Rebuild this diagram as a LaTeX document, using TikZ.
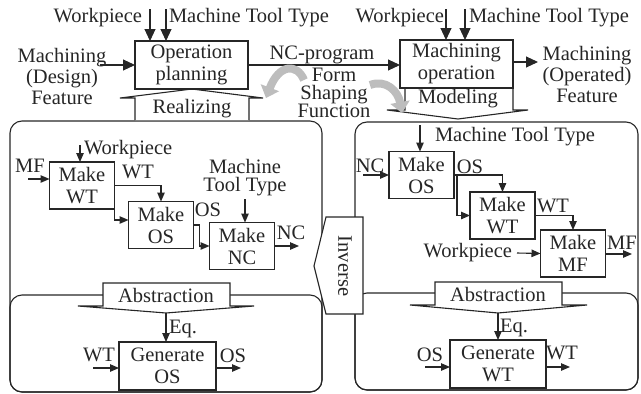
\documentclass[tikz,border=0pt]{standalone}
\usepackage{fontspec}
\setmainfont{Liberation Serif}
\usetikzlibrary{arrows.meta}
\definecolor{machInk}{HTML}{262626}
\definecolor{machHatch}{HTML}{BDBDBD}
\tikzset{
  mach diagram/.style={
    color=machInk, line width=1.1pt,
    >={Triangle[length=9pt,width=7.5pt]},
    every node/.style={font=\fontsize{20.5}{22}\selectfont,
      text=machInk, inner sep=0pt, outer sep=0pt}
  },
  mach box/.style={draw=machInk, align=center,
    minimum width=65pt, minimum height=47pt},
  mach region/.style={rounded corners=12pt},
  mach block/.style={fill=white, draw=machInk},
  mach big/.style={-{Triangle[length=12pt,width=11pt]}},
  mach tight/.style={align=center, font=\fontsize{20.5}{18}\selectfont},
  mach turn/.style={line width=8pt, draw=machHatch,
    -{Triangle[length=11pt,width=19pt]}}
}
\begin{document}
\begin{tikzpicture}[mach diagram,x=1pt,y=-1pt]
  \useasboundingbox (0,0) rectangle (641,394);
  % regions
  \draw[mach region] (10,121) rectangle (322,392);
  \draw[mach region] (10,295) rectangle (322,392);
  \draw[mach region] (355,122) rectangle (638,390);
  \draw[mach region] (355,293) rectangle (638,390);

  % block arrows
  \path[mach block] (135,120) -- (135,98) -- (120,98) -- (192,89)
    -- (263,98) -- (249,98) -- (249,120);
  \node (realize) at (192,109) {Realizing};
  \path[mach block] (405,88) -- (405,110) -- (387,110) -- (458,119)
    -- (528,110) -- (513,110) -- (513,88);
  \node (model) at (458,99) {Modeling};
  \path[mach block] (103,283) -- (230,283) -- (230,306) -- (254,306)
    -- (166,313) -- (78,306) -- (103,306) -- cycle;
  \node (abstA) at (166,295) {Abstraction};
  \path[mach block] (435,282) -- (562,282) -- (562,305) -- (587,305)
    -- (498,313) -- (410,305) -- (435,305) -- cycle;
  \node (abstB) at (498,294) {Abstraction};
  \path[mach block] (363,217) -- (326,217) -- (314,266) -- (326,314)
    -- (363,314) -- cycle;
  \node[rotate=-90] (inverse) at (345,266) {Inverse};

  % top row
  \node[mach box,minimum width=113pt,minimum height=48pt] (opplan)
    at (191.5,65) {Operation\\planning};
  \node[mach box,minimum width=113pt,minimum height=48pt] (machop)
    at (456.5,64) {Machining\\operation};
  \node[anchor=east] (wpTopA) at (142,18) {Workpiece};
  \node[anchor=west] (mttTopA) at (169,18) {Machine Tool Type};
  \node[anchor=east] (wpTopB) at (444,18) {Workpiece};
  \node[anchor=west] (mttTopB) at (469,18) {Machine Tool Type};
  \coordinate (wpInA) at (150,9);
  \coordinate (mttInA) at (166,9);
  \coordinate (wpInB) at (446,9);
  \coordinate (mttInB) at (465,9);
  \draw[mach big] (wpInA) -- (wpInA |- opplan.north);
  \draw[mach big] (mttInA) -- (mttInA |- opplan.north);
  \draw[mach big] (wpInB) -- (wpInB |- machop.north);
  \draw[mach big] (mttInB) -- (mttInB |- machop.north);

  \node[align=center,font=\fontsize{20.5}{21}\selectfont] (mfDesign)
    at (62,76) {Machining\\(Design)\\Feature};
  \coordinate (mfDesignOut) at (100,65);
  \draw[mach big] (mfDesignOut) -- (mfDesignOut -| opplan.west);
  \node (ncprog) at (322,55) {NC-program};
  \draw[mach big] (opplan.east) -- (opplan.east -| machop.west);
  \node[align=center,font=\fontsize{20.5}{21}\selectfont] (mfOper)
    at (587,74) {Machining\\(Operated)\\Feature};
  \coordinate (mfOperIn) at (538,62);
  \draw[mach big] (machop.east |- mfOperIn) -- (mfOperIn);

  \draw[mach turn] (304,80) .. controls (297,63) and (279,64) .. (266,98);
  \draw[mach turn] (370,85) .. controls (386,79) and (398,91) .. (402,113);
  \node[mach tight] (fsf) at (334,93) {Form\\Shaping\\Function};

  % realizing side
  \node[mach box] (mkwt) at (82,185.5) {Make\\WT};
  \node[anchor=west] (wpLab) at (84,150) {Workpiece};
  \coordinate (wpIn) at (80,145);
  \draw[->] (wpIn) -- (wpIn |- mkwt.north);
  \node (mfLab) at (30,166) {MF};
  \coordinate (mfIn) at (28,179);
  \draw[->] (mfIn) -- (mfIn -| mkwt.west);
  \node (wtLab) at (138,172) {WT};
  \node[mach box] (mkos) at (161,225) {Make\\OS};
  \draw[->] (mkwt.east) -| (mkos.north);
  \draw[->] (mkwt.east) |- ([yshift=5pt]mkos.west);
  \node (osLab) at (208,210) {OS};
  \node[mach box] (mknc) at (242,246) {Make\\NC};
  \draw[->] (mkos.east) -- ++(6,0) |- (mknc.west);
  \node[mach tight] (mttLab) at (245,178) {Machine\\Tool Type};
  \coordinate (mttIn) at (245,199);
  \draw[->] (mttIn) -- (mttIn |- mknc.north);
  \node (ncLab) at (291,233) {NC};
  \coordinate (ncOut) at (299,246);
  \draw[->] (mknc.east) -- (ncOut);

  \node[mach box,minimum width=97pt,minimum height=48pt] (genos)
    at (167.5,366) {Generate\\OS};
  \coordinate (absTipA) at (166,313);
  \draw[->] (absTipA) -- (absTipA |- genos.north);
  \node (eqA) at (183,329) {Eq.};
  \node (wtInLab) at (99,355) {WT};
  \coordinate (wtIn) at (93,368);
  \draw[->] (wtIn) -- (wtIn -| genos.west);
  \node (osOutLab) at (233,356) {OS};
  \coordinate (osOut) at (241,368);
  \draw[->] (genos.east |- osOut) -- (osOut);

  % modeling side
  \node[mach box] (mos) at (421.5,175) {Make\\OS};
  \coordinate (mttInC) at (420,125);
  \draw[->] (mttInC) -- (mttInC |- mos.north);
  \node[anchor=west] (mttLabB) at (435,137) {Machine Tool Type};
  \node (ncInLab) at (370,166) {NC};
  \coordinate (ncIn) at (363,175);
  \draw[->] (ncIn) -- (mos.west);
  \node (osLabB) at (470,167) {OS};
  \node[mach box] (mwt) at (502.5,215.5) {Make\\WT};
  \draw[->] (mos.east) -| (mwt.north);
  \draw[->] (mos.east) -- ++(3,0) |- (mwt.west);
  \node (wtLabB) at (553,206) {WT};
  \node[mach box] (mmf) at (573,253.5) {Make\\MF};
  \draw[->] (mwt.east) -| (mmf.north);
  \node[anchor=east] (wpLabB) at (512,253) {Workpiece};
  \draw[->] ([xshift=5pt]wpLabB.east) -- (mmf.west);
  \node (mfLabB) at (622,243) {MF};
  \coordinate (mfOut) at (632,254);
  \draw[->] (mmf.east |- mfOut) -- (mfOut);

  \node[mach box,minimum width=96pt,minimum height=48pt] (genwt)
    at (498,364) {Generate\\WT};
  \coordinate (absTipB) at (498,313);
  \draw[->] (absTipB) -- (absTipB |- genwt.north);
  \node (eqB) at (514,328) {Eq.};
  \node (osInLab) at (430,355) {OS};
  \coordinate (osIn) at (425,367);
  \draw[->] (osIn) -- (osIn -| genwt.west);
  \node (wtOutLab) at (562,353) {WT};
  \coordinate (wtOut) at (570,367);
  \draw[->] (genwt.east |- wtOut) -- (wtOut);
\end{tikzpicture}
\end{document}
